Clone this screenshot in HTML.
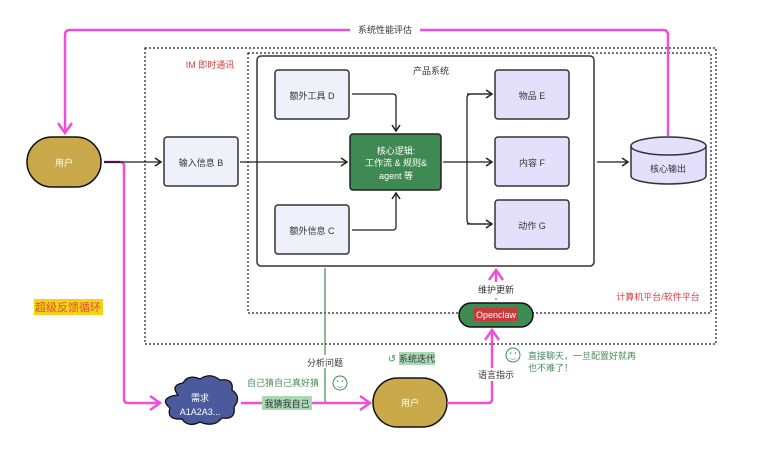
<!DOCTYPE html>
<html><head><meta charset="utf-8"><style>
body{margin:0;background:#fff;width:761px;height:447px;overflow:hidden}
svg text{font-family:"Liberation Sans","Noto Sans CJK SC",sans-serif}
</style></head><body>
<svg width="761" height="447" viewBox="0 0 761 447" xmlns="http://www.w3.org/2000/svg">
<defs>
<marker id="a" markerWidth="10" markerHeight="10" refX="8" refY="5" orient="auto" markerUnits="userSpaceOnUse"><path d="M2,1 L8,5 L2,9" fill="none" stroke="#222" stroke-width="1.5"/></marker>
<marker id="p" markerWidth="16" markerHeight="16" refX="13" refY="8" orient="auto" markerUnits="userSpaceOnUse"><path d="M3,1 L13,8 L3,15" fill="none" stroke="#ee4fd8" stroke-width="2.5"/></marker>
</defs>
<!-- dotted boxes -->
<rect x="145" y="48" width="571" height="296" fill="none" stroke="#222" stroke-width="1.2" stroke-dasharray="2,2"/>
<rect x="248" y="53" width="463" height="260" fill="none" stroke="#222" stroke-width="1.2" stroke-dasharray="2,2"/>
<rect x="257" y="56" width="337" height="210" rx="4" fill="#fff" stroke="#333" stroke-width="1.5"/>
<text x="210" y="68" font-size="9" fill="#d04040" text-anchor="middle">IM 即时通讯</text>
<text x="431" y="74" font-size="9" fill="#333" text-anchor="middle">产品系统</text>
<text x="658" y="300" font-size="9" fill="#d04040" text-anchor="middle">计算机平台/软件平台</text>
<!-- pink top loop -->
<path d="M668,136 V35 Q668,30 663,30 H420" fill="none" stroke="#ee4fd8" stroke-width="2.5"/>
<path d="M350,30 H70 Q65,30 65,35 V133" fill="none" stroke="#ee4fd8" stroke-width="2.5" marker-end="url(#p)"/>
<text x="385" y="33" font-size="9" fill="#333" text-anchor="middle">系统性能评估</text>
<!-- pink user to cloud -->
<path d="M104,162 H120 Q124,162 124,166 V399 Q124,403 128,403 H160" fill="none" stroke="#ee4fd8" stroke-width="2.5" marker-end="url(#p)"/>
<path d="M104,162 H120" stroke="#552244" stroke-width="2"/>
<!-- user -->
<rect x="27" y="137" width="74" height="50" rx="25" fill="#c9a94a" stroke="#111" stroke-width="1.5"/>
<text x="64" y="166" font-size="9" fill="#fff" text-anchor="middle">用户</text>
<!-- input B -->
<line x1="104" y1="162" x2="161" y2="162" stroke="#222" stroke-width="1.3" marker-end="url(#a)"/>
<rect x="164" y="137" width="74" height="49" rx="3" fill="#eef0fa" stroke="#333" stroke-width="1.5"/>
<text x="201" y="166" font-size="9" fill="#333" text-anchor="middle">输入信息 B</text>
<line x1="240" y1="162" x2="347" y2="162" stroke="#222" stroke-width="1.3" marker-end="url(#a)"/>
<!-- D, C -->
<rect x="275" y="70" width="74" height="49" rx="3" fill="#eef0fa" stroke="#333" stroke-width="1.5"/>
<text x="312" y="99" font-size="9" fill="#333" text-anchor="middle">额外工具 D</text>
<rect x="275" y="205" width="74" height="49" rx="3" fill="#eef0fa" stroke="#333" stroke-width="1.5"/>
<text x="312" y="234" font-size="9" fill="#333" text-anchor="middle">额外信息 C</text>
<path d="M352,94 H393 Q396,94 396,97 V131" fill="none" stroke="#222" stroke-width="1.3" marker-end="url(#a)"/>
<path d="M352,230 H393 Q396,230 396,227 V193" fill="none" stroke="#222" stroke-width="1.3" marker-end="url(#a)"/>
<!-- core -->
<rect x="350" y="134" width="91" height="56" rx="3" fill="#3f8a52" stroke="#222" stroke-width="1.5"/>
<text x="396" y="154" font-size="9" fill="#fff" text-anchor="middle">核心逻辑:</text>
<text x="396" y="166" font-size="9" fill="#fff" text-anchor="middle">工作流 &amp; 规则&amp;</text>
<text x="396" y="179" font-size="9" fill="#fff" text-anchor="middle">agent 等</text>
<!-- branches -->
<path d="M443,162 H467" stroke="#222" stroke-width="1.3"/>
<path d="M492,94 H471 Q467,94 467,98 V220 Q467,224 471,224 H492" fill="none" stroke="#222" stroke-width="1.3"/>
<line x1="467" y1="94" x2="492" y2="94" stroke="#222" stroke-width="1.3" marker-end="url(#a)"/>
<line x1="467" y1="224" x2="492" y2="224" stroke="#222" stroke-width="1.3" marker-end="url(#a)"/>
<line x1="467" y1="162" x2="492" y2="162" stroke="#222" stroke-width="1.3" marker-end="url(#a)"/>
<rect x="495" y="70" width="74" height="49" rx="3" fill="#e4e0fb" stroke="#333" stroke-width="1.5"/>
<text x="532" y="99" font-size="9" fill="#333" text-anchor="middle">物品 E</text>
<rect x="495" y="137" width="74" height="49" rx="3" fill="#e4e0fb" stroke="#333" stroke-width="1.5"/>
<text x="532" y="166" font-size="9" fill="#333" text-anchor="middle">内容 F</text>
<rect x="495" y="200" width="74" height="49" rx="3" fill="#e4e0fb" stroke="#333" stroke-width="1.5"/>
<text x="532" y="229" font-size="9" fill="#333" text-anchor="middle">动作 G</text>
<line x1="597" y1="162" x2="628" y2="162" stroke="#222" stroke-width="1.3" marker-end="url(#a)"/>
<!-- cylinder -->
<path d="M631,146 V176 A37.5,8 0 0 0 706,176 V146" fill="#e4e0fb" stroke="#333" stroke-width="1.5"/>
<ellipse cx="668.5" cy="146" rx="37.5" ry="9" fill="#e4e0fb" stroke="#333" stroke-width="1.5"/>
<text x="668" y="172" font-size="9" fill="#333" text-anchor="middle">核心输出</text>
<!-- green line -->
<path d="M325,268 V400 Q325,403 328,403" fill="none" stroke="#3f8a52" stroke-width="1.2"/>
<rect x="300" y="355" width="50" height="13" fill="#fff"/>
<text x="325" y="366" font-size="9" fill="#333" text-anchor="middle">分析问题</text>
<!-- cloud -->
<g fill="#4a5a9c" stroke="#111" stroke-width="1.3">
<path d="M178,395 Q170,385 183,383 Q188,374 200,379 Q210,372 220,380 Q234,378 232,390 Q242,397 234,407 Q236,420 222,418 Q214,428 200,422 Q188,428 182,419 Q166,420 170,408 Q160,400 172,396 Z"/>
</g>
<text x="200" y="401" font-size="9" fill="#fff" text-anchor="middle">需求</text>
<text x="200" y="415" font-size="9" fill="#fff" text-anchor="middle">A1A2A3...</text>
<!-- cloud to user2 -->
<line x1="241" y1="403" x2="370" y2="403" stroke="#ee4fd8" stroke-width="2.5" marker-end="url(#p)"/>
<rect x="262" y="396" width="50" height="14" fill="#a8d8b4"/>
<text x="287" y="407" font-size="9" fill="#333" text-anchor="middle">我猜我自己</text>
<text x="283" y="386" font-size="9" fill="#4a8a5a" text-anchor="middle">自己猜自己真好猜</text>
<circle cx="340" cy="383" r="7" fill="none" stroke="#3f8a52" stroke-width="1"/>
<text x="340" y="386" font-size="7" fill="#3f8a52" text-anchor="middle">‿</text>
<circle cx="337.5" cy="381" r="0.8" fill="#3f8a52"/><circle cx="342.5" cy="381" r="0.8" fill="#3f8a52"/>
<!-- 系统迭代 -->
<text x="392" y="362" font-size="10" fill="#3f8a52" text-anchor="middle">↺</text>
<rect x="399" y="352" width="36" height="13" fill="#a8d8b4"/>
<text x="417" y="362" font-size="9" fill="#333" text-anchor="middle">系统迭代</text>
<!-- user2 -->
<rect x="373" y="378" width="74" height="49" rx="24.5" fill="#c9a94a" stroke="#111" stroke-width="1.5"/>
<text x="410" y="406" font-size="9" fill="#fff" text-anchor="middle">用户</text>
<path d="M447,403 H488 Q492,403 492,399 V330" fill="none" stroke="#ee4fd8" stroke-width="2.5" marker-end="url(#p)"/>
<rect x="472" y="368" width="42" height="13" fill="#fff"/>
<text x="496" y="378" font-size="9" fill="#333" text-anchor="middle">语言指示</text>
<!-- openclaw -->
<rect x="459" y="303" width="74" height="24" rx="12" fill="#3f8a52" stroke="#111" stroke-width="1.5"/>
<rect x="474" y="308" width="44" height="13" fill="#c83a3a"/>
<text x="496" y="318" font-size="9" fill="#fff" text-anchor="middle">Openclaw</text>
<line x1="496" y1="299" x2="496" y2="299" stroke="#ee4fd8" stroke-width="2"/>
<circle cx="496" cy="299" r="1" fill="#ee4fd8"/>
<line x1="496" y1="282" x2="496" y2="270" stroke="#ee4fd8" stroke-width="2.5" marker-end="url(#p)"/>
<text x="496" y="293" font-size="9" fill="#333" text-anchor="middle">维护更新</text>
<circle cx="513" cy="355" r="7" fill="none" stroke="#3f8a52" stroke-width="1"/>
<circle cx="510.5" cy="353" r="0.8" fill="#3f8a52"/><circle cx="515.5" cy="353" r="0.8" fill="#3f8a52"/>
<text x="513" y="358" font-size="7" fill="#3f8a52" text-anchor="middle">‿</text>
<text x="528" y="359" font-size="9" fill="#4a8a5a">直接聊天，一旦配置好就再</text>
<text x="528" y="371" font-size="9" fill="#4a8a5a">也不难了！</text>
<!-- super loop -->
<rect x="34" y="299" width="69" height="16" fill="#f5d21a"/>
<text x="68" y="311" font-size="11" fill="#e0502a" text-anchor="middle">超级反馈循环</text>
</svg>
</body></html>
